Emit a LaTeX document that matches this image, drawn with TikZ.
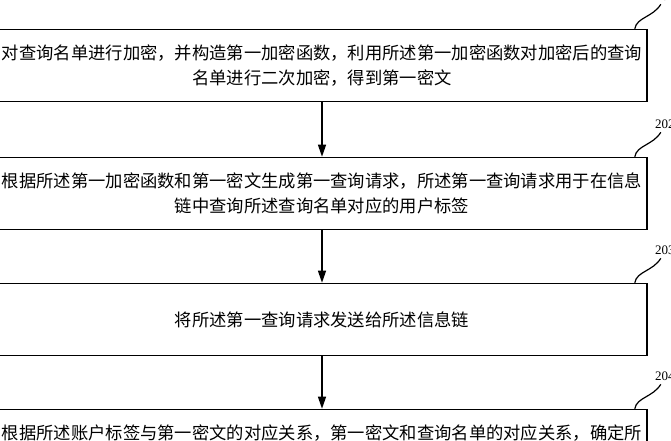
\documentclass[tikz,border=0pt]{standalone}
\usepackage{fontspec}
\setmainfont{Liberation Serif}
\newfontfamily\cjk{Noto Sans CJK SC}
\usetikzlibrary{arrows.meta}
\begin{document}
\begin{tikzpicture}[x=1pt,y=-1pt,
    paso/.style={draw,line width=1.6pt,minimum width=650pt,minimum height=72pt,inner sep=0pt,align=center,font=\cjk\fontsize{17.3}{25}\selectfont},
    texto/.style={inner sep=0pt,font=\cjk\fontsize{17.3}{25}\selectfont},
    flecha/.style={line width=1.3pt,-{Triangle[length=12pt,width=8pt]}},
    etiqueta/.style={anchor=west,inner sep=0pt,font=\fontsize{13}{13}\selectfont},
    gancho/.style={line width=1.2pt}] %Diagrama de flujo
            \useasboundingbox (0,0) rectangle (671,440);

            \node[paso] (s1) at (322,65.5) {对查询名单进行加密，并构造第一加密函数，利用所述第一加密函数对加密后的查询\\名单进行二次加密，得到第一密文};
            \node[paso] (s2) at (322,193.5) {根据所述第一加密函数和第一密文生成第一查询请求，所述第一查询请求用于在信息\\链中查询所述查询名单对应的用户标签};
            \node[paso] (s3) at (322,319.5) {将所述第一查询请求发送给所述信息链};
            \node[paso] (s4) at (322,445.5) {};
            \node[texto] (t4) at (322,433) {根据所述账户标签与第一密文的对应关系，第一密文和查询名单的对应关系，确定所};

            \draw[flecha] (s1) -- (s2);
            \draw[flecha] (s2) -- (s3);
            \draw[flecha] (s3) -- (s4);

            % numeros de paso
            \foreach \i in {1,...,4} {
                \node[etiqueta] (n\i) at ([xshift=7pt,yshift=32pt]s\i.north east) {20\i};
                \draw[gancho] ([xshift=-13pt]s\i.north east) .. controls +(2,-11.5) and +(-8,13) .. ([xshift=6pt,yshift=-3pt]n\i.south west);
            }
        \end{tikzpicture}
\end{document}
